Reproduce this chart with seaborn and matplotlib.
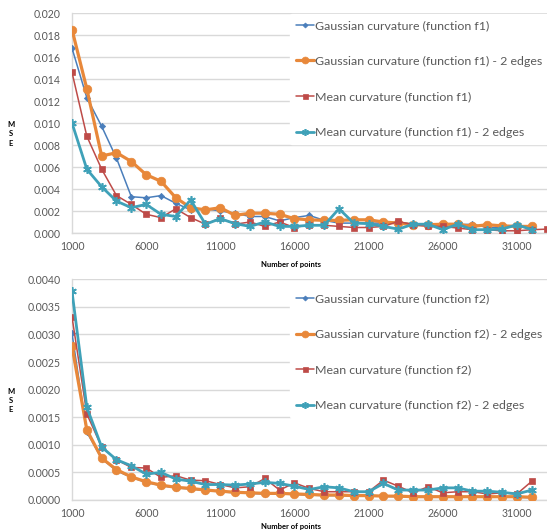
import numpy as np
import pandas as pd
import matplotlib
matplotlib.use("Agg")
import matplotlib.pyplot as plt
import seaborn as sns
from matplotlib.ticker import FormatStrFormatter, FixedLocator

sns.set_theme(style="white")
plt.rcParams['font.family'] = ['Lato', 'DejaVu Sans']

# ---------------- data ----------------
n_points = list(range(1000, 33000, 1000))        # 1000 .. 32000
n_points_33 = list(range(1000, 34000, 1000))     # 1000 .. 33000

gauss_f1 = [0.0168, 0.0123, 0.0097, 0.0068, 0.0033, 0.0032, 0.0034, 0.0027,
            0.0021, 0.0022, 0.0020, 0.0018, 0.0015, 0.0015, 0.0011, 0.0014,
            0.0016, 0.00115, 0.0009, 0.0009, 0.0009, 0.0009, 0.0010, 0.0008,
            0.0008, 0.00075, 0.00075, 0.0008, 0.0005, 0.0005, 0.00075, 0.00045]
gauss_f1_2e = [0.0185, 0.0131, 0.0070, 0.0073, 0.0065, 0.0053, 0.0047, 0.0032,
               0.0023, 0.0021, 0.0023, 0.0016, 0.0018, 0.0018, 0.0017, 0.0013,
               0.0012, 0.00115, 0.00115, 0.0012, 0.0012, 0.0010, 0.0009, 0.00075,
               0.00075, 0.0008, 0.0008, 0.0006, 0.00075, 0.00065, 0.0006, 0.0006]
mean_f1 = [0.0146, 0.0088, 0.0058, 0.0034, 0.0026, 0.0017, 0.0014, 0.0022,
           0.0014, 0.0008, 0.00135, 0.0008, 0.0010, 0.0006, 0.0010, 0.0005,
           0.00075, 0.0007, 0.0006, 0.0005, 0.0005, 0.0006, 0.00105, 0.00075,
           0.0006, 0.0006, 0.00045, 0.0003, 0.0003, 0.0002, 0.0002, 0.0003,
           0.00035]
mean_f1_2e = [0.0100, 0.0058, 0.0042, 0.0029, 0.0023, 0.0026, 0.0017, 0.0015,
              0.0030, 0.0008, 0.0013, 0.00085, 0.0006, 0.0010, 0.0006, 0.0006,
              0.0007, 0.0007, 0.0022, 0.0009, 0.00085, 0.0006, 0.00035, 0.0008,
              0.0008, 0.0003, 0.0008, 0.0003, 0.0003, 0.00035, 0.00075, 0.0003]

gauss_f2 = [0.00302, 0.00123, 0.00075, 0.00053, 0.00041, 0.00032, 0.00026, 0.00022,
            0.00020, 0.00017, 0.00015, 0.00013, 0.00012, 0.00011, 0.00011, 0.00010,
            0.00009, 0.00008, 0.00008, 0.00007, 0.00007, 0.00007, 0.00006, 0.00006,
            0.00006, 0.00006, 0.00006, 0.00005, 0.00005, 0.00005, 0.00005, 0.00004]
gauss_f2_2e = [0.00279, 0.00127, 0.00076, 0.00055, 0.00042, 0.00033, 0.00027, 0.00023,
               0.00021, 0.00018, 0.00016, 0.00014, 0.00013, 0.00012, 0.00012, 0.00011,
               0.00010, 0.00009, 0.00009, 0.00008, 0.00008, 0.00007, 0.00007, 0.00006,
               0.00006, 0.00006, 0.00006, 0.00006, 0.00006, 0.00006, 0.00006, 0.00005]
mean_f2 = [0.00332, 0.00156, 0.00096, 0.00073, 0.00059, 0.00058, 0.00041, 0.00044,
           0.00036, 0.00035, 0.00028, 0.00022, 0.00024, 0.00039, 0.00018, 0.00031,
           0.00021, 0.00015, 0.00015, 0.00015, 0.00015, 0.00036, 0.00025, 0.00013,
           0.00024, 0.00013, 0.00015, 0.00015, 0.00011, 0.00013, 0.00011, 0.00034]
mean_f2_2e = [0.00378, 0.00168, 0.00096, 0.00073, 0.00062, 0.00047, 0.00050, 0.00038,
              0.00034, 0.00028, 0.00028, 0.00027, 0.00029, 0.00032, 0.00030, 0.00025,
              0.00019, 0.00024, 0.00022, 0.00015, 0.00015, 0.00030, 0.00018, 0.00018,
              0.00018, 0.00022, 0.00022, 0.00016, 0.00016, 0.00014, 0.00011, 0.00018]

labels_f1 = ["Gaussian curvature (function f1)",
             "Gaussian curvature (function f1) - 2 edges",
             "Mean curvature (function f1)",
             "Mean curvature (function f1) - 2 edges"]
labels_f2 = ["Gaussian curvature (function f2)",
             "Gaussian curvature (function f2) - 2 edges",
             "Mean curvature (function f2)",
             "Mean curvature (function f2) - 2 edges"]
x_ticks = [1000, 6000, 11000, 16000, 21000, 26000, 31000]

# ---------------- styling ----------------
BLUE = "#4A7EBB"
ORANGE = "#E8883A"
RED = "#BE4B48"
TEAL = "#3FA1B8"
GRID = "#D9D9D9"
TXT = "#595959"

styles = [
    dict(color=BLUE, marker="D", markersize=3.2, linewidth=1.1),
    dict(color=ORANGE, marker="o", markersize=6.2, linewidth=2.3),
    dict(color=RED, marker="s", markersize=4.5, linewidth=1.1),
    dict(color=TEAL, marker=(6, 2, 0), markersize=6.2, linewidth=2.0, markeredgewidth=1.2),
]

fig = plt.figure(figsize=(5.47, 5.30), dpi=100)
W, H = 547.0, 530.0

def make_axes(top_px, bot_px):
    left = 72 / W
    return fig.add_axes([left, 1 - bot_px / H, 1.0 - left + 0.002, (bot_px - top_px) / H])

ax1 = make_axes(13, 233)
ax2 = make_axes(279.3, 500)

def draw(ax, xs_list, ys_list, labels, ymax, ystep, fmt, leg_y, xlab_y):
    for xs, ys, lab, st in zip(xs_list, ys_list, labels, styles):
        st = dict(st)
        mec = st.pop("markeredgewidth", 0.5)
        sns.lineplot(x=xs, y=ys, ax=ax, label=lab, color=st["color"],
                     marker=st["marker"], markersize=st["markersize"],
                     linewidth=st["linewidth"], markeredgecolor=st["color"],
                     markeredgewidth=mec, zorder=3)
    ax.set_xlim(1000, 33100)
    ax.set_ylim(0, ymax)
    ax.yaxis.set_major_locator(FixedLocator(np.arange(0, ymax + ystep / 2, ystep)))
    ax.yaxis.set_major_formatter(FormatStrFormatter(fmt))
    ax.set_xticks(x_ticks)
    ax.set_xticklabels([str(v) for v in x_ticks])
    ax.grid(axis="y", color=GRID, linewidth=1.0, zorder=0)
    ax.set_axisbelow(True)
    for s in ["top", "right"]:
        ax.spines[s].set_visible(False)
    for s in ["left", "bottom"]:
        ax.spines[s].set_color(GRID)
        ax.spines[s].set_linewidth(1.0)
    ax.tick_params(axis="both", length=0, labelsize=7.6, colors=TXT)
    ax.tick_params(axis="y", pad=8)
    ax.tick_params(axis="x", pad=6)
    ax.set_xlabel("Number of points", fontsize=5.5, fontweight="bold", color="black")
    ax.xaxis.set_label_coords(0.461, xlab_y)
    ax.set_ylabel("M\nS\nE", rotation=0, fontsize=5.5, fontweight="bold",
                  color="black", linespacing=1.35, va="center", ha="center")
    ax.yaxis.set_label_coords(-0.128, 0.45)
    leg = ax.legend(loc="upper left", bbox_to_anchor=(0.457, leg_y), frameon=True,
                    fontsize=8.9, labelcolor=TXT, handlelength=1.45, handletextpad=0.1,
                    labelspacing=2.0, borderpad=0.5, borderaxespad=0.0,
                    markerscale=0.8)
    leg.get_frame().set_facecolor("white")
    leg.get_frame().set_edgecolor("white")
    leg.get_frame().set_alpha(1.0)
    leg.set_zorder(5)

draw(ax1, [n_points, n_points, n_points_33, n_points],
     [gauss_f1, gauss_f1_2e, mean_f1, mean_f1_2e], labels_f1, 0.020, 0.002, "%.3f",
     0.997, -0.125)
draw(ax2, [n_points] * 4,
     [gauss_f2, gauss_f2_2e, mean_f2, mean_f2_2e], labels_f2, 0.0040, 0.0005, "%.4f",
     0.965, -0.105)

fig.savefig("out.png", dpi=100)
